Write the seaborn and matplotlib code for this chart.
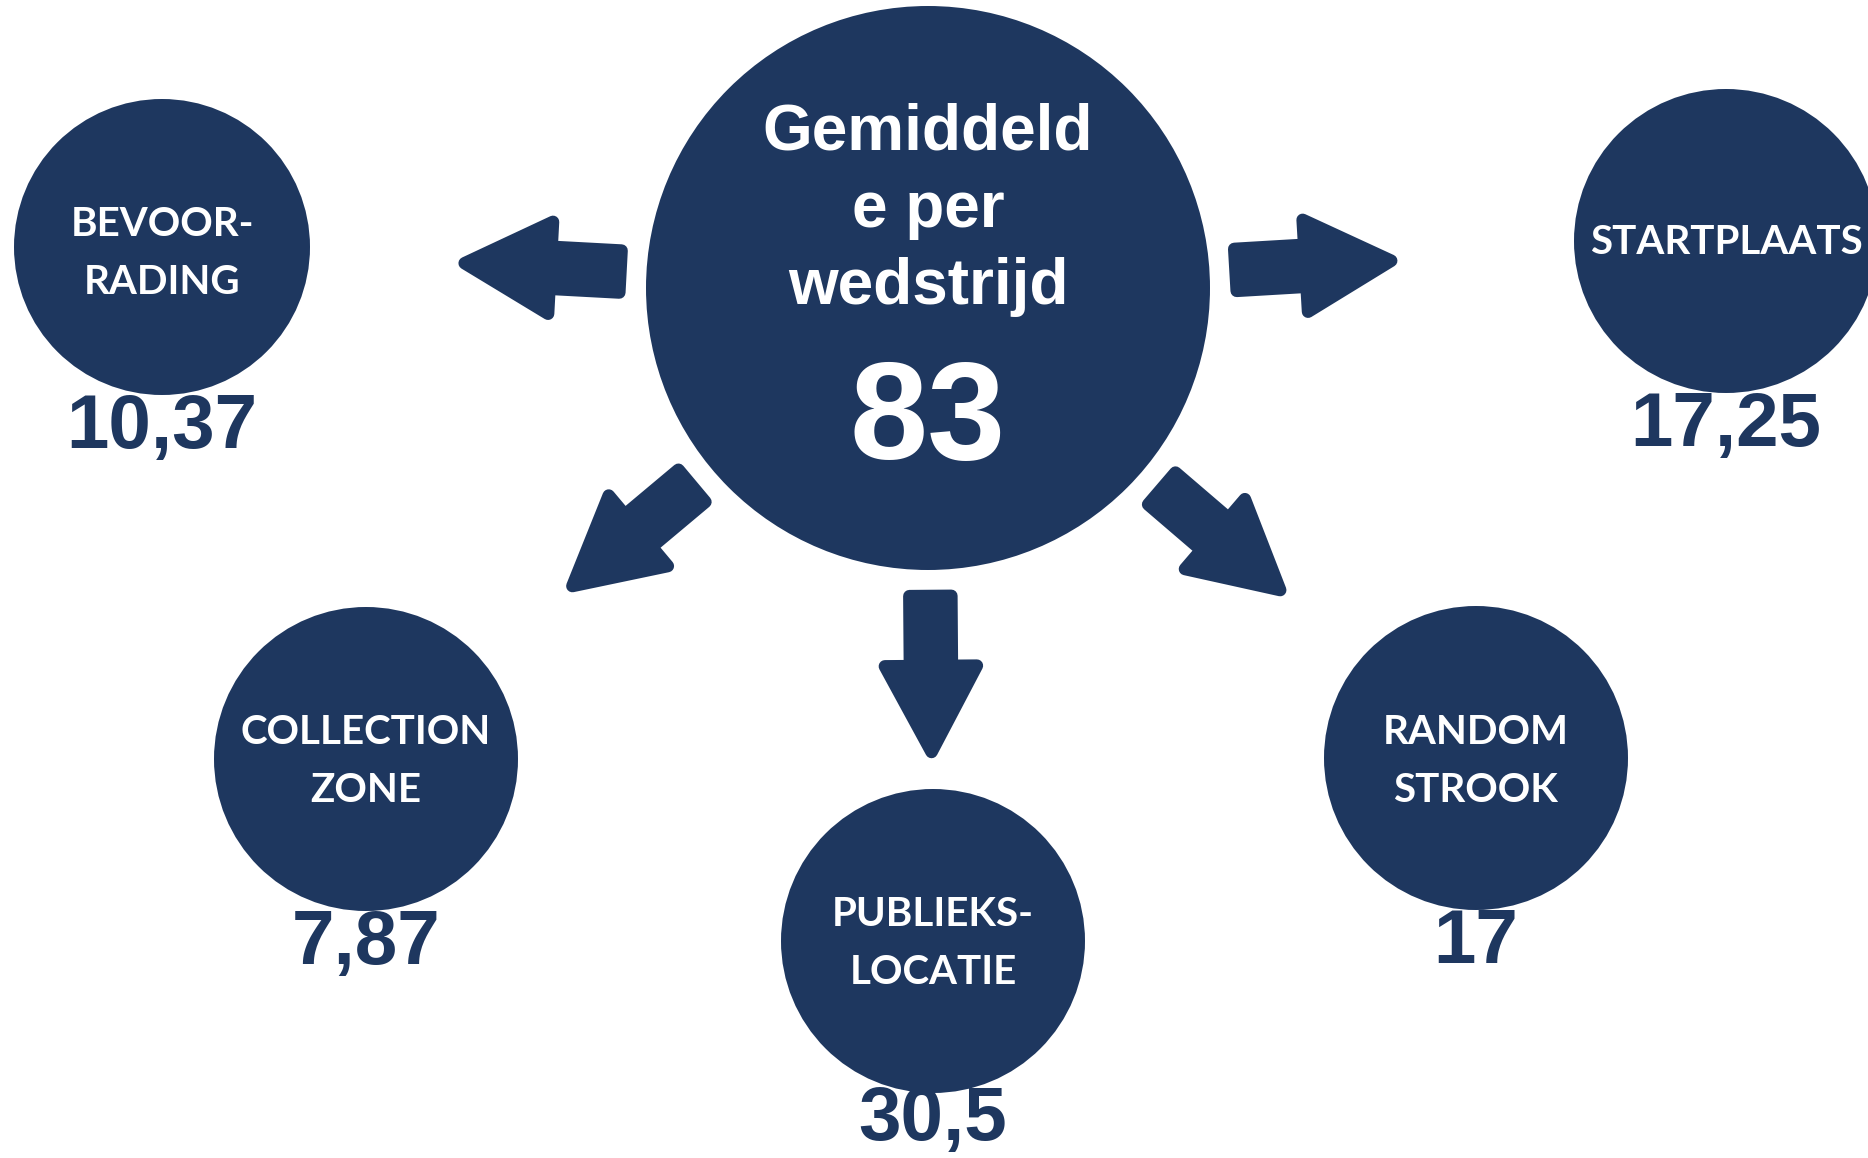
import numpy as np
import pandas as pd
import matplotlib
matplotlib.use("Agg")
import matplotlib.pyplot as plt
from matplotlib.patches import Polygon
import seaborn as sns

# Data
categories = ["BEVOOR-\nRADING", "STARTPLAATS", "COLLECTION\nZONE", "PUBLIEKS-\nLOCATIE", "RANDOM\nSTROOK"]
values = [10.37, 17.25, 7.87, 30.5, 17]
center_title = ["Gemiddeld", "e per", "wedstrijd"]
center_value = 83

# Layout (pixels, figure is 1868x1158)
W, H = 1868, 1158
center_xy = (928, 288)
center_r = 282
sat_x = [162, 1726, 366, 933, 1476]
sat_y = [247, 241, 759, 941, 758]
sat_r = [148, 152, 152, 152, 152]
label_dy = [7, 2, 3, 3, 3]

navy = "#1E375F"

sns.set_theme(style="white")
plt.rcParams['font.family'] = ['Liberation Sans', 'DejaVu Sans']

fig = plt.figure(figsize=(W / 100, H / 100), dpi=100)
ax = fig.add_axes([0, 0, 1, 1])

df = pd.DataFrame({
    "x": [center_xy[0]] + sat_x,
    "y": [center_xy[1]] + sat_y,
    "r": [center_r] + sat_r,
})
# marker area in pt^2 from radius in pixels (dpi 100)
df["s"] = (2 * df["r"] * 0.72) ** 2
sns.scatterplot(data=df, x="x", y="y", s=df["s"].values, color=navy,
                linewidth=0, marker="o", ax=ax, legend=False, zorder=2)
ax.set_xlim(0, W)
ax.set_ylim(H, 0)
ax.axis("off")

# arrows from the big circle toward each satellite
L, head_len, head_hw, shaft_hw = 156, 86, 46, 21
start = 308
for x, y in zip(sat_x, sat_y):
    d = np.array([x - center_xy[0], y - center_xy[1]], dtype=float)
    u = d / np.linalg.norm(d)
    v = np.array([-u[1], u[0]])
    c = np.array(center_xy, dtype=float) + u * start
    pts_local = [(0, -shaft_hw), (L - head_len, -shaft_hw), (L - head_len, -head_hw),
                 (L, 0), (L - head_len, head_hw), (L - head_len, shaft_hw), (0, shaft_hw)]
    pts = [c + u * a + v * b for a, b in pts_local]
    ax.add_patch(Polygon(pts, closed=True, facecolor=navy, edgecolor=navy,
                         linewidth=9, joinstyle="round", zorder=2))

# center text
for i, line in enumerate(center_title):
    ax.text(center_xy[0], 150 + i * 77, line, ha="center", va="baseline",
            color="white", fontsize=46, fontweight="bold", zorder=3)
ax.text(center_xy[0], 459, str(center_value), ha="center", va="baseline",
        color="white", fontsize=101, fontweight="bold", zorder=3)

# satellite labels and values
for lab, val, x, y, r, dy in zip(categories, values, sat_x, sat_y, sat_r, label_dy):
    ax.text(x, y + dy, lab, ha="center", va="center", color="white",
            fontsize=29, fontweight="bold", family=["Lato", "DejaVu Sans"],
            linespacing=1.7, zorder=3)
    txt = f"{val:g}".replace(".", ",")
    ax.text(x, min(y + r + 53, H - 18), txt, ha="center", va="baseline", color=navy,
            fontsize=55, fontweight="bold", zorder=3)

fig.savefig("out.png", dpi=100, facecolor="white")
